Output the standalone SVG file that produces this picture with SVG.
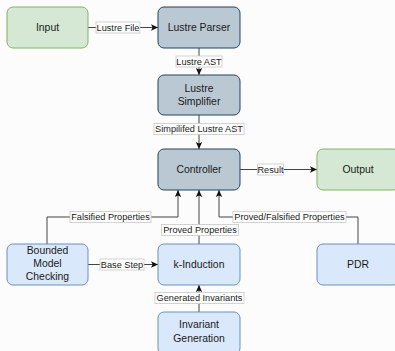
<svg xmlns="http://www.w3.org/2000/svg" width="395" height="351" viewBox="0 0 395 351">
<style>
.n text{font-family:"Liberation Sans",Arial,sans-serif;font-size:10.4px;fill:#1a1a1a;text-anchor:middle}
.g rect{fill:#d5e8d4;stroke:#82b366;stroke-width:1}
.s rect{fill:#bac8d3;stroke:#23445d;stroke-width:1}
.b rect{fill:#dae8fc;stroke:#6c8ebf;stroke-width:1}
.e path{fill:none;stroke:#444;stroke-width:1}
.lb rect{fill:#fff;stroke:#c8c8c8;stroke-width:0.8}
.lb text{font-family:"Liberation Sans",Arial,sans-serif;font-size:9.2px;fill:#1a1a1a;text-anchor:middle}
</style>
<defs>
<marker id="ah" markerWidth="8" markerHeight="8" refX="7" refY="4" orient="auto" markerUnits="userSpaceOnUse">
<path d="M0,0.8 L7,4 L0,7.2 L1.6,4 Z" fill="#111"/>
</marker>
</defs>
<rect x="0" y="0" width="395" height="351" fill="#fcfcfc"/>
<g id="connectors" class="e">
<path d="M88,27.5 H158" marker-end="url(#ah)"/>
<path d="M199,48 V75" marker-end="url(#ah)"/>
<path d="M199,115 V149" marker-end="url(#ah)"/>
<path d="M240,169.5 H317" marker-end="url(#ah)"/>
<path d="M47,244 V217 H178 V190" marker-end="url(#ah)"/>
<path d="M199,244 V190" marker-end="url(#ah)"/>
<path d="M358,244 V217 H219 V190" marker-end="url(#ah)"/>
<path d="M88,264.5 H158" marker-end="url(#ah)"/>
<path d="M199,312 V285" marker-end="url(#ah)"/>
</g>
<g id="labels" class="lb">
<rect x="96" y="22" width="44" height="11"/><text x="118" y="30.8">Lustre File</text>
<rect x="176" y="56" width="46" height="11"/><text x="199" y="64.8">Lustre AST</text>
<rect x="154" y="123.5" width="90" height="11"/><text x="199" y="132.3">Simpilifed Lustre AST</text>
<rect x="257.5" y="164" width="26" height="11"/><text x="270.5" y="172.8">Result</text>
<rect x="70" y="211.5" width="81" height="11"/><text x="110.5" y="220.3">Falsified Properties</text>
<rect x="161.5" y="224.5" width="77" height="11"/><text x="200" y="233.3">Proved Properties</text>
<rect x="233" y="211.5" width="113" height="11"/><text x="289.5" y="220.3">Proved/Falsified Properties</text>
<rect x="100" y="259" width="44" height="11"/><text x="122" y="267.8">Base Step</text>
<rect x="155" y="292.5" width="89" height="11"/><text x="199.5" y="301.3">Generated Invariants</text>
</g>
<g id="input" class="n g"><rect x="7" y="7" width="81" height="41" rx="6"/><text x="47.5" y="31">Input</text></g>
<g id="parser" class="n s"><rect x="158" y="7" width="82" height="41" rx="6"/><text x="199" y="31">Lustre Parser</text></g>
<g id="simplifier" class="n s"><rect x="158" y="75" width="82" height="40" rx="6"/><text x="199" y="91.5">Lustre</text><text x="199" y="104.5">Simplifier</text></g>
<g id="controller" class="n s"><rect x="158" y="149" width="82" height="41" rx="6"/><text x="199" y="173">Controller</text></g>
<g id="output" class="n g"><rect x="317" y="149" width="82" height="41" rx="6"/><text x="358" y="173">Output</text></g>
<g id="bmc" class="n b"><rect x="7" y="244" width="81" height="41" rx="6"/><text x="47.5" y="254">Bounded</text><text x="47.5" y="267">Model</text><text x="47.5" y="280">Checking</text></g>
<g id="kinduction" class="n b"><rect x="158" y="244" width="82" height="41" rx="6"/><text x="199" y="268">k-Induction</text></g>
<g id="pdr" class="n b"><rect x="317" y="244" width="82" height="41" rx="6"/><text x="358" y="268">PDR</text></g>
<g id="invgen" class="n b"><rect x="158" y="312" width="82" height="42" rx="6"/><text x="199" y="328">Invariant</text><text x="199" y="341.5">Generation</text></g>
</svg>
